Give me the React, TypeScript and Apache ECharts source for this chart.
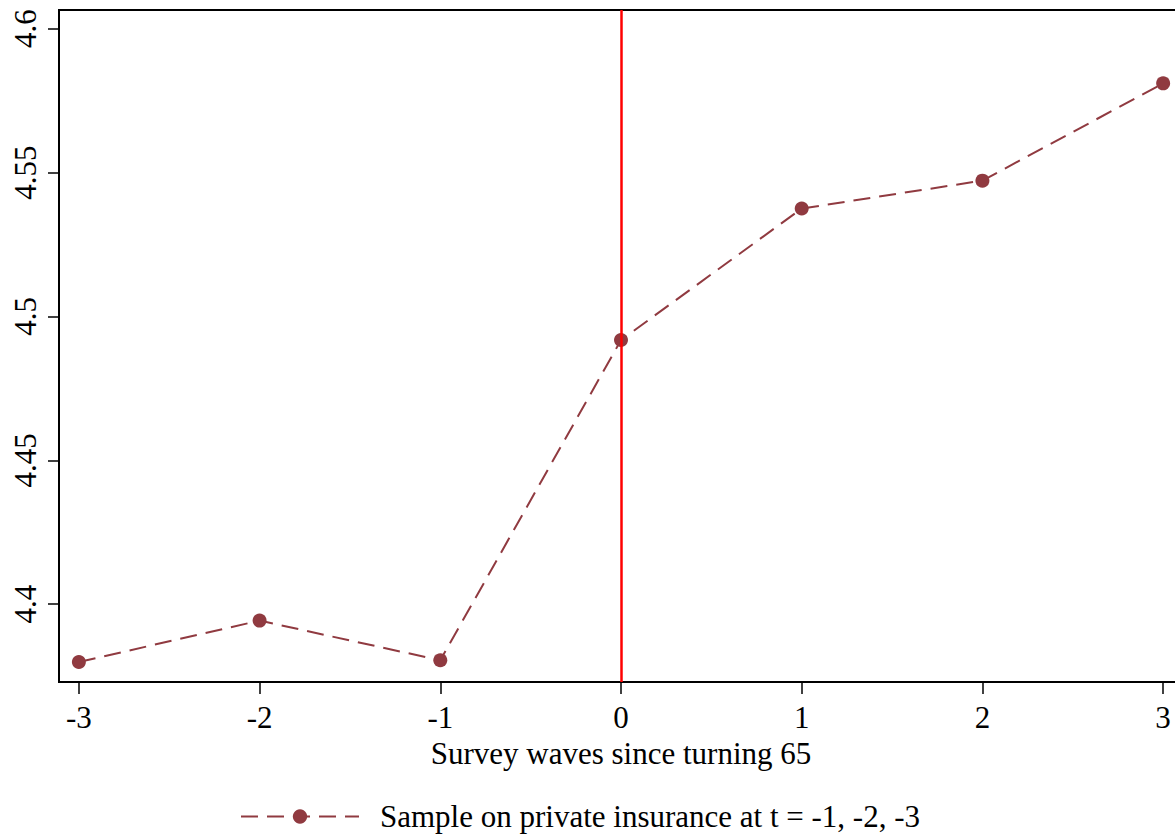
import React, { useEffect, useRef } from "react";
import * as echarts from "echarts";

const waves = [-3, -2, -1, 0, 1, 2, 3];
const meanValues = [4.3799, 4.3943, 4.3805, 4.4918, 4.5375, 4.5472, 4.581];
const yTicks = [4.4, 4.45, 4.5, 4.55, 4.6];
const xTicks = [-3, -2, -1, 0, 1, 2, 3];
const seriesName = "Sample on private insurance at t = -1, -2, -3";
const xTitle = "Survey waves since turning 65";

const FONT = "'Liberation Serif', 'Times New Roman', serif";
const MAROON = "#903A40";
const FS = 31;

export default function App() {
  const ref = useRef<HTMLDivElement>(null);
  useEffect(() => {
    if (!ref.current) return;
    const chart = echarts.init(ref.current, undefined, { renderer: "svg" });
    chart.setOption({
      animation: false,
      backgroundColor: "#fff",
      textStyle: { fontFamily: FONT },
      grid: {
        left: 59,
        top: 10,
        width: 1124,
        height: 672,
        show: true,
        borderColor: "#000",
        borderWidth: 2,
        containLabel: false,
        outerBoundsMode: "none",
      },
      legend: {
        left: 240,
        top: 801,
        padding: 0,
        itemWidth: 118,
        itemHeight: 18,
        textStyle: { fontFamily: FONT, fontSize: FS, color: "#000", padding: [0, 0, 0, 16] },
        data: [seriesName],
      },
      xAxis: {
        type: "value",
        min: -3.11,
        max: 3.11,
        name: xTitle,
        nameLocation: "middle",
        nameGap: 51,
        nameTextStyle: { fontFamily: FONT, fontSize: FS, color: "#000" },
        splitLine: { show: false },
        axisLine: { show: true, onZero: false, lineStyle: { color: "#000", width: 2 } },
        axisTick: { show: true, length: 12, customValues: xTicks, lineStyle: { color: "#000", width: 1.5 } },
        axisLabel: {
          customValues: xTicks,
          margin: 20,
          fontFamily: FONT,
          fontSize: FS,
          color: "#000",
        },
      },
      yAxis: {
        type: "value",
        min: 4.37296,
        max: 4.6065,
        splitLine: { show: false },
        axisLine: { show: true, onZero: false, lineStyle: { color: "#000", width: 2 } },
        axisTick: { show: true, length: 11, customValues: yTicks, lineStyle: { color: "#000", width: 1.5 } },
        axisLabel: {
          customValues: yTicks,
          rotate: 90,
          margin: 18,
          fontFamily: FONT,
          fontSize: FS,
          color: "#000",
          formatter: (v: number) => String(Number(v.toFixed(2))),
        },
      },
      series: [
        {
          type: "line",
          name: "ref",
          data: [],
          z: 1,
          silent: true,
          markLine: {
            silent: true,
            symbol: "none",
            label: { show: false },
            lineStyle: { color: "#FF0000", width: 2.5, type: "solid" },
            data: [{ xAxis: 0 }],
          },
        },
        {
          type: "line",
          name: seriesName,
          z: 3,
          data: waves.map((w, i) => [w, meanValues[i]]),
          symbol: "circle",
          symbolSize: 14,
          itemStyle: { color: MAROON },
          lineStyle: { color: MAROON, width: 2, type: [17, 9] },
        },
      ],
    });
    return () => chart.dispose();
  }, []);
  return (
    <div
      ref={ref}
      style={{ position: "fixed", left: 0, top: 0, width: 1175, height: 835, background: "#fff" }}
    />
  );
}
